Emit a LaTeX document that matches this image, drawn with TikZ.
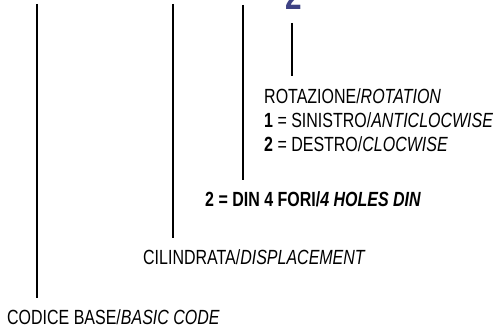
\documentclass[tikz,border=0pt]{standalone}
\usepackage{fontspec}
\setmainfont{Liberation Sans}[FakeStretch=0.78]
\usepackage{xcolor}
\usetikzlibrary{positioning}
\definecolor{codeblue}{RGB}{62,66,132}

\begin{document}
\begin{tikzpicture}[
    x=1pt, y=1pt,
    font=\fontsize{20.5}{24}\selectfont,
    lbl/.style={inner sep=0pt, text height=14.5pt, text depth=4pt, align=left},
    lead/.style={line width=2.6pt, shorten >=12pt}
]
\clip (0,0) rectangle (502,331);
\useasboundingbox (0,0) rectangle (502,331);

% code digit cut at the top
\node[font=\fontsize{38}{38}\selectfont\bfseries, text=codeblue, anchor=base, inner sep=0pt] (ver) at (293.5,321) {2};

% labels
\node[lbl, anchor=base west] (base) at (7,6) {CODICE BASE/\textit{BASIC CODE}};
\node[lbl, anchor=base west] (disp) at (143,66) {CILINDRATA/\textit{DISPLACEMENT}};
\node[lbl, anchor=base west, font=\fontsize{20.5}{24}\selectfont\bfseries] (din) at (205,124) {2 = DIN 4 FORI/\textit{4 HOLES DIN}};
\node[inner sep=0pt, align=left, anchor=north west] (rot) at (264,243)
    {ROTAZIONE/\textit{ROTATION}\\
     \textbf{1} = SINISTRO/\textit{ANTICLOCWISE}\\
     \textbf{2} = DESTRO/\textit{CLOCWISE}};

% leaders
\coordinate (t1) at (37,327);
\coordinate (t2) at (173,327);
\coordinate (t3) at (243,326);
\coordinate (t4) at (292,308);

\draw[lead] (t1) -- (t1 |- base.north);
\draw[lead] (t2) -- (t2 |- disp.north);
\draw[lead] (t3) -- (t3 |- din.north);
\draw[lead] (t4) -- (t4 |- rot.north);
\end{tikzpicture}
\end{document}
